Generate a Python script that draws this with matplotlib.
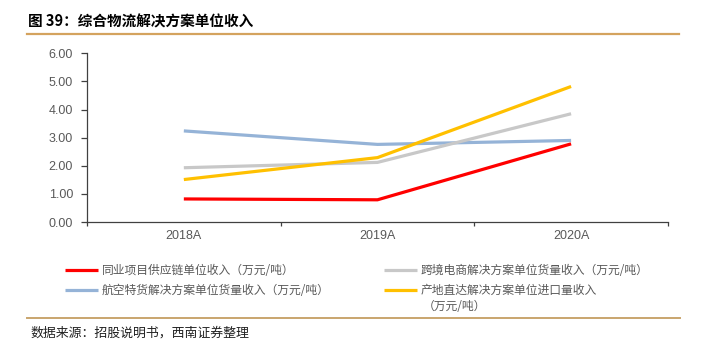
import matplotlib
matplotlib.use("Agg")
import matplotlib.pyplot as plt
from matplotlib.lines import Line2D

plt.rcParams['font.family'] = ['Noto Sans CJK SC', 'DejaVu Sans']

# Data
years = ["2018A", "2019A", "2020A"]
peer_supply = [0.82, 0.79, 2.78]
air_cargo = [3.24, 2.76, 2.90]
cross_border = [1.93, 2.12, 3.85]
direct_import = [1.51, 2.29, 4.82]

labels = [
    "同业项目供应链单位收入（万元/吨）",
    "航空特货解决方案单位货量收入（万元/吨）",
    "跨境电商解决方案单位货量收入（万元/吨）",
    "产地直达解决方案单位进口量收入",
]
colors = ["#FF0000", "#95B3D7", "#C8C8C8", "#FFC000"]
series = [peer_supply, air_cargo, cross_border, direct_import]

fig = plt.figure(figsize=(7.11, 3.45), dpi=100)
ax = fig.add_axes([0.1224, 0.3565, 0.817, 0.489])

x = list(range(len(years)))
handles = []
for vals, c, lab in zip(series, colors, labels):
    h, = ax.plot(x, vals, color=c, lw=2.3, label=lab, solid_capstyle="butt")
    handles.append(h)

ax.set_ylim(0, 6)
ax.set_yticks([0, 1, 2, 3, 4, 5, 6])
ax.set_yticklabels([f"{v:.2f}" for v in range(7)], family="Liberation Sans",
                   fontsize=9, color="#595959")
ax.set_xlim(-0.5, 2.5)
ax.set_xticks([-0.5, 0.5, 1.5, 2.5])
ax.set_xticklabels([])
ax.set_xticks(x, minor=True)
ax.set_xticklabels(years, minor=True, family="Liberation Sans", fontsize=9, color="#595959")
ax.tick_params(axis="x", which="minor", length=0, pad=6)
ax.tick_params(axis="x", which="major", length=3, width=0.9, color="#404040", direction="out")
ax.tick_params(axis="y", length=4, width=0.9, color="#404040", direction="out", pad=6)
for s in ["top", "right"]:
    ax.spines[s].set_visible(False)
for s in ["left", "bottom"]:
    ax.spines[s].set_color("#404040")
    ax.spines[s].set_linewidth(0.9)

# legend, two columns
leg_kw = dict(frameon=False, fontsize=8.5, handlelength=2.8, handletextpad=0.3,
              labelspacing=0.6, borderpad=0, borderaxespad=0, labelcolor="#595959")
leg1 = fig.legend(handles[:2], labels[:2], loc="upper left",
                  bbox_to_anchor=(65 / 711, 1 - 264 / 345), **leg_kw)
leg2 = fig.legend(handles[2:], labels[2:], loc="upper left",
                  bbox_to_anchor=(384 / 711, 1 - 264 / 345), **leg_kw)
fig.text(423 / 711, 1 - 306 / 345, "（万元/吨）", fontsize=8.5, color="#595959", va="center")

# title and rules
fig.text(28 / 711, 1 - 21 / 345, "图 39：综合物流解决方案单位收入", fontsize=10.5,
         fontweight="bold", va="center", ha="left")
fig.add_artist(Line2D([27 / 711, 679 / 711], [1 - 34 / 345, 1 - 34 / 345],
                      color="#D4A35E", lw=1.6, transform=fig.transFigure))
fig.add_artist(Line2D([27 / 711, 680 / 711], [1 - 318 / 345, 1 - 318 / 345],
                      color="#C9A56E", lw=1.4, transform=fig.transFigure))
fig.text(30 / 711, 1 - 333 / 345, "数据来源：招股说明书，西南证券整理", fontsize=9.3,
         style="italic", va="center", ha="left", color="#202020")

fig.savefig("out.png", dpi=100)
